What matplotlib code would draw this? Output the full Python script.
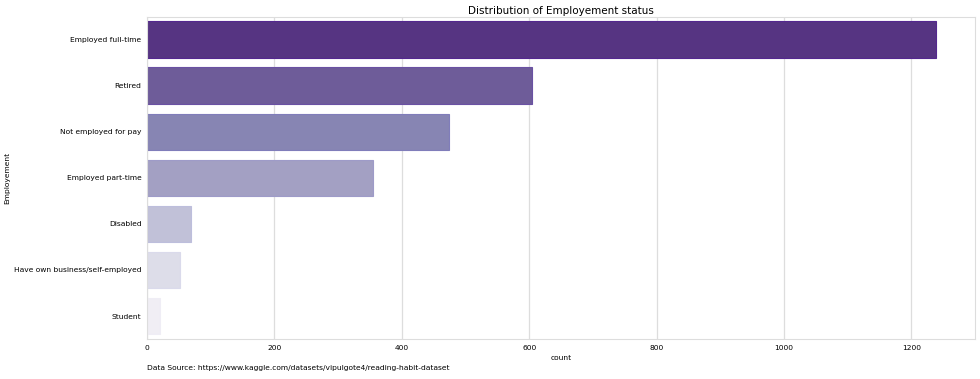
import matplotlib
matplotlib.use("Agg")
import matplotlib.pyplot as plt
import seaborn as sns

# Employment status counts
categories = ["Employed full-time", "Retired", "Not employed for pay", "Employed part-time",
              "Disabled", "Have own business/self-employed", "Student"]
counts = [1238, 604, 474, 354, 69, 52, 21]

sns.set_style("whitegrid")
plt.rcParams["text.color"] = "black"
plt.rcParams["axes.labelcolor"] = "black"
plt.rcParams["xtick.color"] = "black"
plt.rcParams["ytick.color"] = "black"

fig = plt.figure(figsize=(9.8, 3.79), dpi=100)
ax = fig.add_axes([0.15, 0.1055, 0.845, 0.85])

base = sns.color_palette("Purples_r", len(categories))
fills = [sns.desaturate(c, 0.75) for c in base]

ax.barh(categories, counts, height=0.8, color=fills, edgecolor=base, linewidth=0.8)
ax.set_ylim(len(categories) - 0.5, -0.5)
ax.set_xlim(0, max(counts) * 1.05)

ax.grid(axis="y", visible=False)
ax.grid(axis="x", color="#dddddd", linewidth=0.9)
for s in ax.spines.values():
    s.set_color("#dddddd")

ax.tick_params(axis="both", labelsize=5.4, length=0, pad=4)
ax.set_xlabel("count", fontsize=5.4, labelpad=3)
ax.set_ylabel("Employement", fontsize=5.4, labelpad=3)
ax.set_title("Distribution of Employement status", fontsize=7.5, pad=2)

fig.text(0.15, 0.02, "Data Source: https://www.kaggle.com/datasets/vipulgote4/reading-habit-dataset",
         fontsize=5.4, ha="left", va="bottom")

fig.savefig("out.png", dpi=100)
